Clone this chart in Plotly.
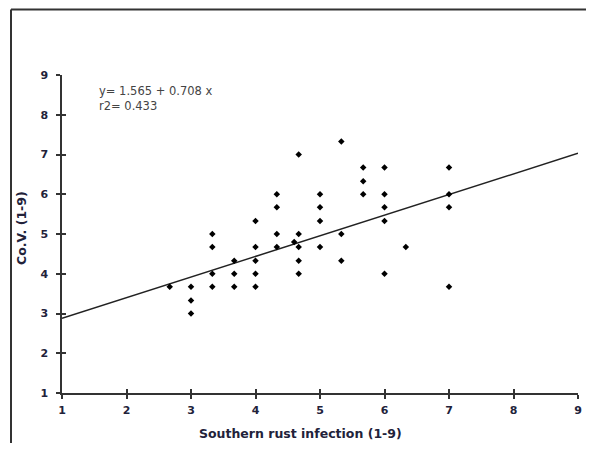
import plotly.graph_objects as go

# Data
rust = [2.67,
        3, 3, 3,
        3.33, 3.33, 3.33, 3.33,
        3.67, 3.67, 3.67,
        4, 4, 4, 4, 4,
        4.33, 4.33, 4.33, 4.33,
        4.6,
        4.67, 4.67, 4.67, 4.67, 4.67,
        5, 5, 5, 5,
        5.33, 5.33, 5.33,
        5.67, 5.67, 5.67,
        6, 6, 6, 6, 6,
        6.33,
        7, 7, 7, 7]
cov = [3.67,
       3.67, 3.33, 3,
       5, 4.67, 4, 3.67,
       4.33, 4, 3.67,
       5.33, 4.67, 4.33, 4, 3.67,
       6, 5.67, 5, 4.67,
       4.8,
       7, 5, 4.67, 4.33, 4,
       6, 5.67, 5.33, 4.67,
       7.33, 5, 4.33,
       6.67, 6.33, 6,
       6.67, 6, 5.67, 5.33, 4,
       4.67,
       6.67, 6, 5.67, 3.67]

line_x = [1, 9]
line_y = [2.88, 7.03]

ticks = [1, 2, 3, 4, 5, 6, 7, 8, 9]
tick_labels = [str(t) for t in ticks]

# page body has an 8px margin; compensate so screen pixels match the reference
OFF = 8
W, H = 594 - 2 * OFF, 451 - 2 * OFF
# plot area in screen pixels: x 62..578, y 75..393
L = 62 - OFF
T = 75 - OFF
R = W - (578 - OFF)
B = H - (393 - OFF)
pw, ph = W - L - R, H - T - B

def px_x(px):
    return (px - OFF - L) / pw

def px_y(py):
    return (H - B - (py - OFF)) / ph

label_font = dict(family="DejaVu Sans, Verdana, sans-serif", size=11, color="#22223a", weight="bold")
title_font = dict(family="DejaVu Sans, Verdana, sans-serif", size=12.5, color="#22223a", weight="bold")

fig = go.Figure()
fig.add_trace(go.Scatter(x=line_x, y=line_y, mode="lines",
                         line=dict(color="#222222", width=1.5), hoverinfo="skip"))
fig.add_trace(go.Scatter(x=rust, y=cov, mode="markers",
                         marker=dict(symbol="diamond", size=5, color="black")))
# invisible trace to host the overlay axes (for crossing ticks)
fig.add_trace(go.Scatter(x=[None], y=[None], xaxis="x2", yaxis="y2", mode="markers",
                         showlegend=False, hoverinfo="skip"))

axis_common = dict(range=[1, 9], tickvals=ticks, ticktext=tick_labels,
                   showgrid=False, zeroline=False, showline=True,
                   linecolor="#333333", linewidth=1.5,
                   ticks="outside", ticklen=4, tickwidth=1.5, tickcolor="#333333",
                   tickfont=label_font, automargin=False)

fig.update_layout(
    width=W, height=H,
    margin=dict(l=L, r=R, t=T, b=B, autoexpand=False),
    paper_bgcolor="white", plot_bgcolor="white",
    showlegend=False,
    xaxis=dict(**axis_common, ticklabelstandoff=2),
    yaxis=dict(**axis_common, ticklabelstandoff=6),
    xaxis2=dict(overlaying="x", anchor="y", range=[1, 9], tickvals=ticks,
                showticklabels=False, showgrid=False, zeroline=False, showline=False,
                ticks="inside", ticklen=4, tickwidth=1.5, tickcolor="#333333", side="bottom"),
    yaxis2=dict(overlaying="y", anchor="x", range=[1, 9], tickvals=ticks,
                showticklabels=False, showgrid=False, zeroline=False, showline=False,
                ticks="inside", ticklen=4, tickwidth=1.5, tickcolor="#333333", side="left"),
)

ann_font = dict(family="DejaVu Sans, Verdana, sans-serif", size=11.5, color="#444444")
fig.add_annotation(text="y= 1.565 + 0.708 x<br>r2= 0.433", xref="paper", yref="paper",
                   x=px_x(97), y=px_y(98), xanchor="left", yanchor="middle", align="left",
                   showarrow=False, font=ann_font)
fig.add_annotation(text="Southern rust infection (1-9)", xref="paper", yref="paper",
                   x=px_x(300), y=px_y(433), xanchor="center", yanchor="middle",
                   showarrow=False, font=title_font)
fig.add_annotation(text="Co.V. (1-9)", xref="paper", yref="paper",
                   x=px_x(21), y=px_y(228), xanchor="center", yanchor="middle", textangle=-90,
                   showarrow=False, font=title_font)

# outer frame (top and left edges, as in the reference)
fig.add_shape(type="line", xref="paper", yref="paper", x0=px_x(11), x1=px_x(594), y0=px_y(9.5), y1=px_y(9.5),
              line=dict(color="#333333", width=2))
fig.add_shape(type="line", xref="paper", yref="paper", x0=px_x(11), x1=px_x(11), y0=px_y(9.5), y1=px_y(451),
              line=dict(color="#333333", width=2))

fig.write_html("out.html")
